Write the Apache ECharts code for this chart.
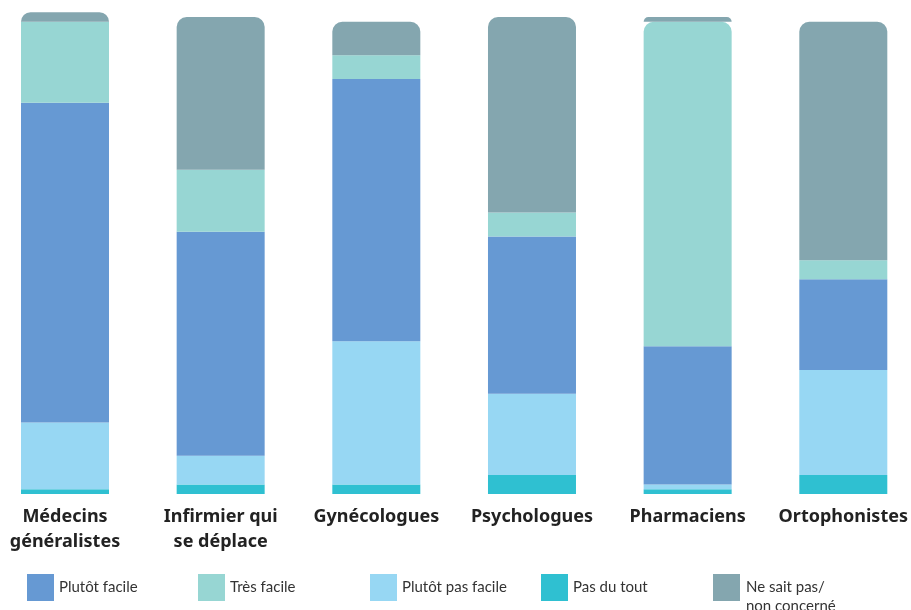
<!DOCTYPE html>
<html><head><meta charset="utf-8">
<script src="https://cdn.jsdelivr.net/npm/echarts@6/dist/echarts.min.js"></script>
<style>html,body{margin:0;padding:0;background:#fff}#c{width:911px;height:610px}</style>
</head><body><div id="c"></div>
<script>
const categories = ['Médecins\ngénéralistes', 'Infirmier qui\nse déplace', 'Gynécologues', 'Psychologues', 'Pharmaciens', 'Ortophonistes'];
const pasDuTout = [1, 2, 2, 4, 1, 4];
const plutotPasFacile = [14, 6, 30, 17, 1, 22];
const plutotFacile = [67, 47, 55, 33, 29, 19];
const tresFacile = [17, 13, 5, 5, 68, 4];
const neSaitPas = [2, 32, 7, 41, 1, 50];

const seriesDefs = [
  {name: 'Pas du tout', data: pasDuTout, color: '#2fc0d1'},
  {name: 'Plutôt pas facile', data: plutotPasFacile, color: '#97d7f3'},
  {name: 'Plutôt facile', data: plutotFacile, color: '#6699d3'},
  {name: 'Très facile', data: tresFacile, color: '#97d6d3'},
  {name: 'Ne sait pas/ non concerné', data: neSaitPas, color: '#84a6af'}
];
const R = 10;
const series = seriesDefs.map((s, si) => ({
  name: s.name, type: 'bar', stack: 'a', barWidth: 88, clip: false,
  itemStyle: {color: s.color},
  data: s.data.map((v, ci) => {
    let above = 0;
    for (let k = si + 1; k < seriesDefs.length; k++) above += seriesDefs[k].data[ci];
    const round = above < 2;
    return round ? {value: v, itemStyle: {borderRadius: [R, R, 0, 0]}} : v;
  })
}));

const legendOrder = ['Plutôt facile', 'Très facile', 'Plutôt pas facile', 'Pas du tout', 'Ne sait pas/ non concerné'];
const legendLeft = [27, 198, 370, 541, 713];
const legends = legendOrder.map((n, i) => ({
  data: [n], left: legendLeft[i], top: 574, padding: 0, itemWidth: 27, itemHeight: 27, itemGap: 6,
  icon: 'rect', selectedMode: false,
  formatter: i === 4 ? () => '' : undefined,
  textStyle: {fontFamily: 'Lato', fontSize: 15, color: '#333'}
}));

const chart = echarts.init(document.getElementById('c'), null, {renderer: 'canvas'});
chart.setOption({
  animation: false,
  grid: {left: 65, right: 64, top: 17, bottom: 116},
  legend: legends,
  graphic: [{
    type: 'text', left: 746, top: 578,
    style: {text: 'Ne sait pas/\nnon concerné', font: '15px Lato', fill: '#333', lineHeight: 19}
  }],
  xAxis: {type: 'category', data: categories, boundaryGap: false,
    axisLine: {show: false}, axisTick: {show: false}, splitLine: {show: false},
    axisLabel: {interval: 0, margin: 10, fontFamily: 'Noto Sans', fontWeight: 'bold', fontSize: 18, lineHeight: 25, color: '#222', verticalAlign: 'top'}},
  yAxis: {type: 'value', min: 0, max: 100, show: false, splitLine: {show: false}},
  series: series
});
</script></body></html>
